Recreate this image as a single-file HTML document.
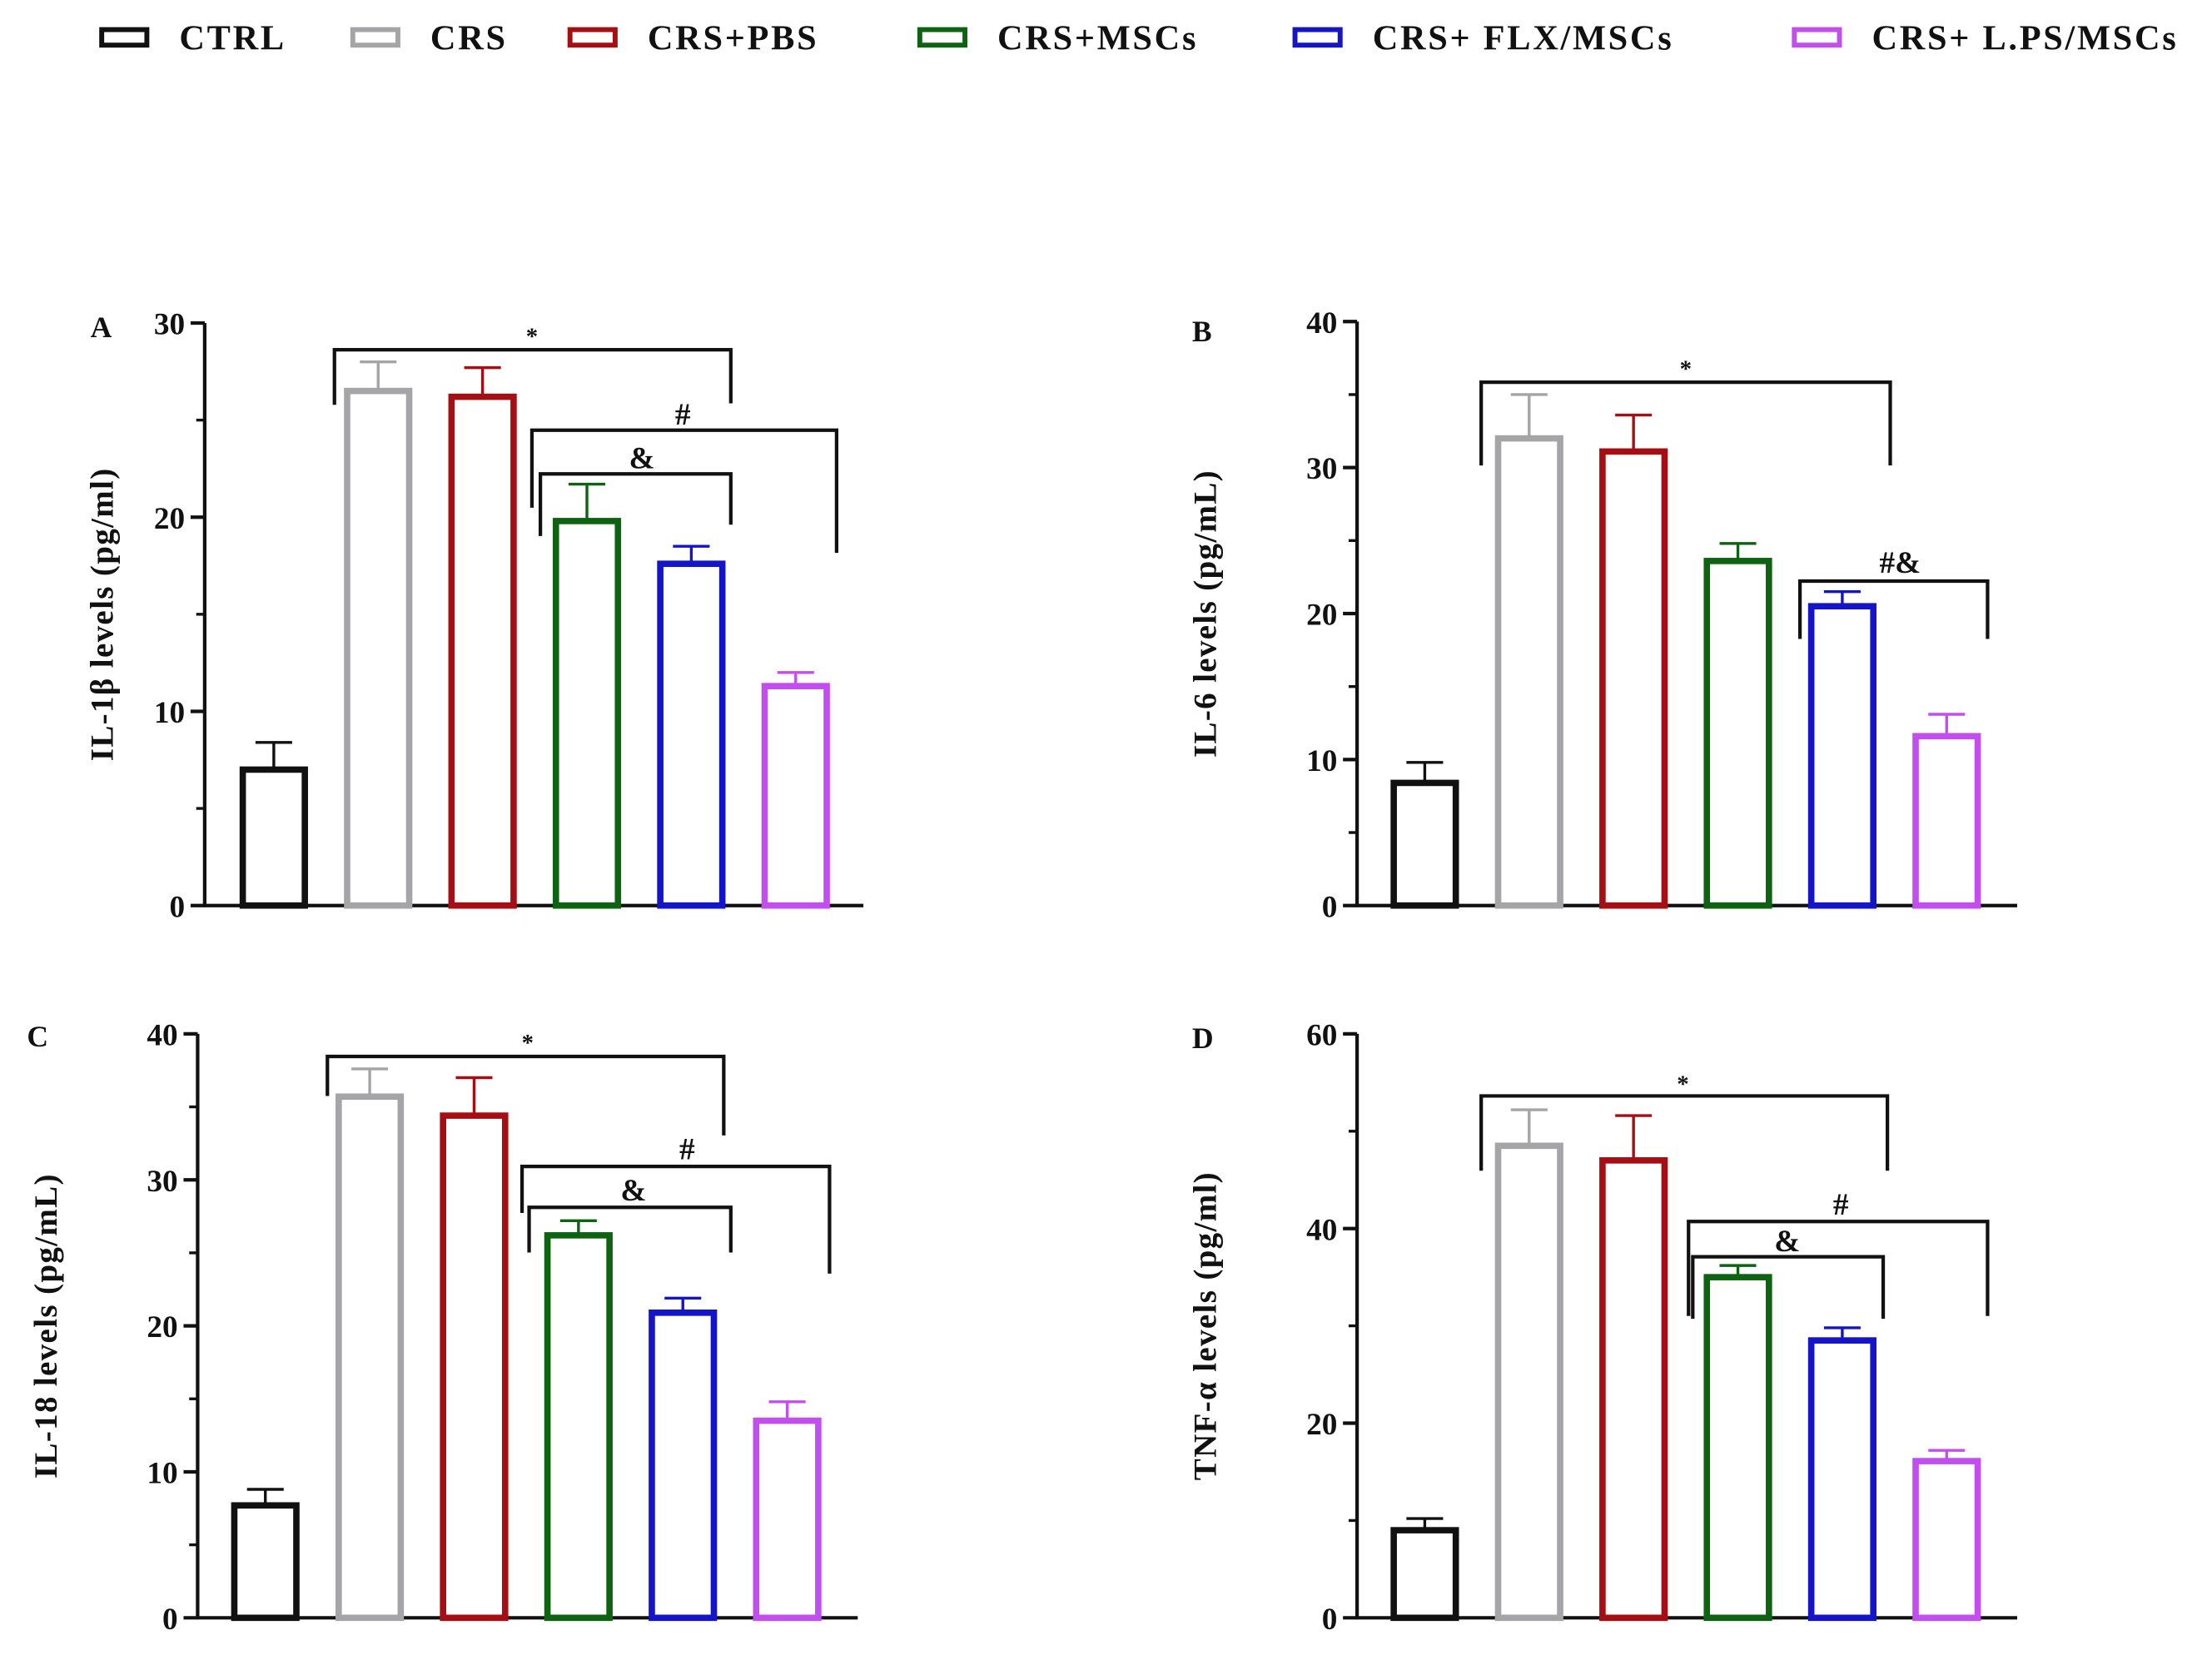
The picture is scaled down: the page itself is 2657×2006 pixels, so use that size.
<!DOCTYPE html>
<html><head><meta charset="utf-8"><style>
html,body{margin:0;padding:0;background:#fff;}
svg{display:block;}
text{font-family:"Liberation Serif",serif;font-weight:bold;fill:#111;}
</style></head><body>
<svg id="chart" width="2657" height="2006" viewBox="0 0 1568 1184" xmlns="http://www.w3.org/2000/svg">
<g id="legend"></g>
<g id="panels"></g>
</svg>
<script>
const groups = ["CTRL","CRS","CRS+PBS","CRS+MSCs","CRS+ FLX/MSCs","CRS+ L.PS/MSCs"];
const colors = ["#111111","#a5a5a8","#a50f14","#0e6312","#1414c8","#c24ef0"];
const il1bMeans = [7.0,26.5,26.2,19.8,17.6,11.3];
const il1bErr = [1.4,1.5,1.5,1.9,0.9,0.7];
const il6Means = [8.4,32.0,31.1,23.6,20.5,11.6];
const il6Err = [1.4,3.0,2.5,1.2,1.0,1.5];
const il18Means = [7.7,35.7,34.4,26.2,20.9,13.5];
const il18Err = [1.1,1.9,2.6,1.0,1.0,1.3];
const tnfMeans = [9.0,48.5,47.0,35.0,28.5,16.1];
const tnfErr = [1.2,3.7,4.6,1.2,1.3,1.1];
const ticksA = [0,10,20,30];
const ticksB = [0,10,20,30,40];
const ticksC = [0,10,20,30,40];
const ticksD = [0,20,40,60];

const NS="http://www.w3.org/2000/svg";
function mk(tag,attrs,parent,txt){const e=document.createElementNS(NS,tag);for(const k in attrs)e.setAttribute(k,attrs[k]);if(txt!==undefined)e.textContent=txt;parent.appendChild(e);return e;}

const lg=document.getElementById('legend');
const legX=[72,250,404,652,918,1272];
groups.forEach((g,i)=>{
  const r=mk('rect',{x:legX[i],y:21,width:32,height:11,fill:'none',stroke:colors[i],'stroke-width':3.5},lg);
  
  
  const t=mk('text',{x:legX[i]+55,y:35,'font-size':25,'letter-spacing':1.6},lg,g);
  
  
});

const panels=[
 {id:'A',means:il1bMeans,err:il1bErr,ticks:ticksA,minor:5,ax:145,x0:194,top:229,bot:642,xend:612,ylab:'IL-1β levels (pg/ml)',labX:64,labY:239,ylX:80,
  br:[[237,518,248,287,286,'*',377,244],[377,593,305,360,392,'#',484,301],[383,518,336,380,372,'&',455,332]]},
 {id:'B',means:il6Means,err:il6Err,ticks:ticksB,minor:5,ax:962,x0:1010,top:228,bot:642,xend:1430,ylab:'IL-6 levels (pg/mL)',labX:845,labY:242,ylX:862,
  br:[[1050,1340,271,330,330,'*',1195,267],[1276,1409,412,453,453,'#&',1347,406]]},
 {id:'C',means:il18Means,err:il18Err,ticks:ticksC,minor:5,ax:140,x0:188,top:733,bot:1147,xend:608,ylab:'IL-18 levels (pg/mL)',labX:19,labY:742,ylX:40,
  br:[[232,513,749,777,805,'*',374,745],[370,588,827,860,903,'#',487,822],[375,518,856,888,888,'&',449,851]]},
 {id:'D',means:tnfMeans,err:tnfErr,ticks:ticksD,minor:10,ax:962,x0:1010,top:733,bot:1147,xend:1430,ylab:'TNF-α levels (pg/ml)',labX:845,labY:743,ylX:862,
  br:[[1050,1338,777,830,830,'*',1193,774],[1197,1409,866,933,933,'#',1305,861],[1200,1335,891,935,935,'&',1267,887]]}
];
const root=document.getElementById('panels');
panels.forEach(p=>{
  const g=mk('g',{},root);
  
  
  const max=p.ticks[p.ticks.length-1];
  const y=v=>p.bot-(v/max)*(p.bot-p.top);
  const x=i=>p.x0+i*74;
  const ya=mk('line',{x1:p.ax,y1:p.top,x2:p.ax,y2:p.bot+1,stroke:'#111','stroke-width':2.5},g);
  
  const xa=mk('line',{x1:p.ax-1,y1:p.bot,x2:p.xend,y2:p.bot,stroke:'#111','stroke-width':2.5},g);
  
  for(let v=0;v<=max;v+=p.minor){
    mk('line',{x1:p.ax-6,y1:y(v),x2:p.ax,y2:y(v),stroke:'#111','stroke-width':2},g);
  }
  p.ticks.forEach(t=>{
    mk('line',{x1:p.ax-10,y1:y(t),x2:p.ax,y2:y(t),stroke:'#111','stroke-width':2.5},g);
    const tl=mk('text',{x:p.ax-14,y:y(t)+8,'font-size':22,'text-anchor':'end'},g,t);
    
  });
  const pl=mk('text',{x:p.labX,y:p.labY,'font-size':21},g,p.id);
  
  const cy=(p.top+p.bot)/2;
  const yl=mk('text',{x:p.ylX,y:cy,'font-size':23,'letter-spacing':0.8,'text-anchor':'middle',transform:`rotate(-90 ${p.ylX} ${cy})`},g,p.ylab);
  
  p.means.forEach((m,i)=>{
    const c=colors[i];
    const e=mk('line',{x1:x(i),y1:y(m),x2:x(i),y2:y(m+p.err[i]),stroke:c,'stroke-width':2},g);
    
    mk('line',{x1:x(i)-13,y1:y(m+p.err[i]),x2:x(i)+13,y2:y(m+p.err[i]),stroke:c,'stroke-width':2},g);
    const b=mk('rect',{x:x(i)-22,y:y(m),width:44,height:p.bot-y(m),fill:'#fff',stroke:c,'stroke-width':4.5},g);
    
  });
  p.br.forEach(b=>{
    const pa=mk('path',{d:`M${b[0]},${b[3]}V${b[2]}H${b[1]}V${b[4]}`,fill:'none',stroke:'#111','stroke-width':2.5},g);
    
    const st=mk('text',{x:b[6],y:b[7],'font-size':b[5]=='*'?17:22,'text-anchor':'middle'},g,b[5]);
    
  });
});
</script>
</body></html>
